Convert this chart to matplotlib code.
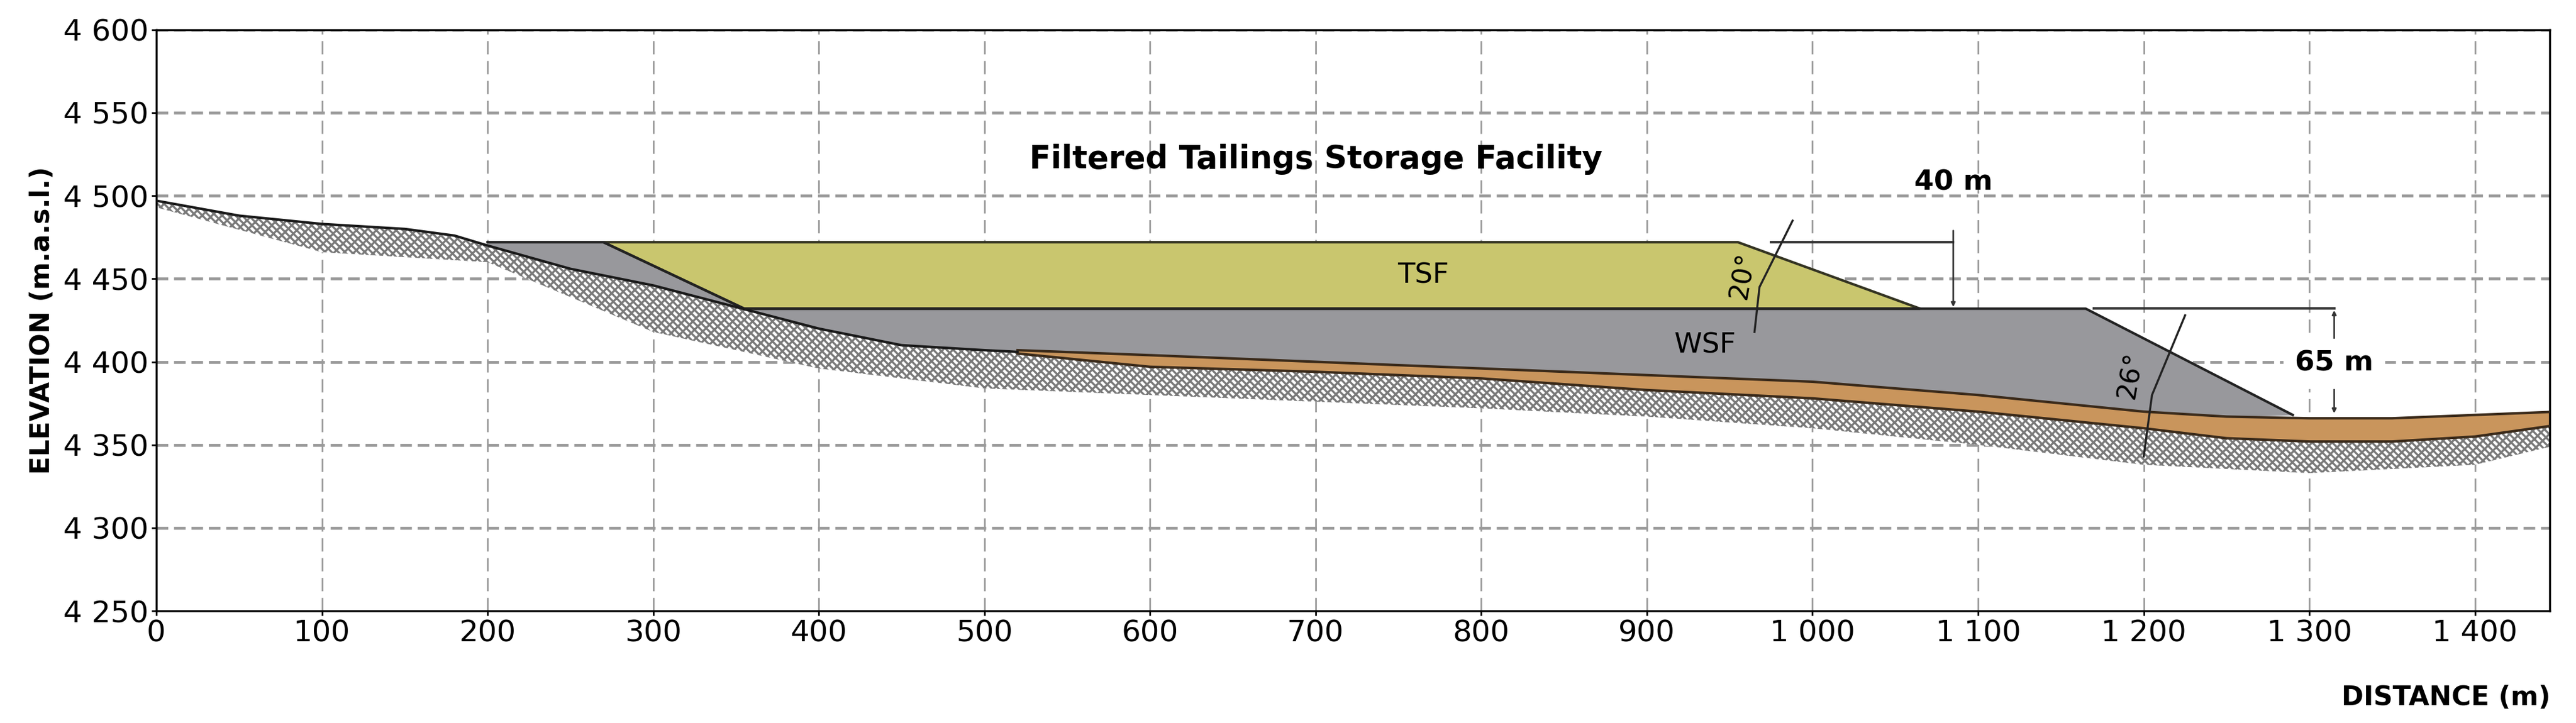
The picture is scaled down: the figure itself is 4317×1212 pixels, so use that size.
import numpy as np
import matplotlib.pyplot as plt
from matplotlib.ticker import FuncFormatter

plt.rcParams['hatch.linewidth'] = 2.5

# ground surface (top of natural terrain)
gx = [0, 50, 100, 150, 180, 200, 250, 300, 350, 400, 450, 500, 520]
gy = [4497, 4488, 4483, 4480, 4476, 4470, 4456, 4446, 4433, 4420, 4410, 4407, 4406]
# orange layer (top / bottom) from x=520 onward
ox = [520, 600, 700, 800, 900, 1000, 1100, 1200, 1250, 1300, 1350, 1400, 1450]
o_top = [4407, 4404, 4400, 4396, 4392, 4388, 4380, 4370, 4367, 4366, 4366, 4368, 4370]
o_bot = [4405, 4397, 4394, 4390, 4383, 4378, 4370, 4360, 4354, 4352, 4352, 4355, 4362]
# hatched foundation bottom
hx = [0, 100, 200, 300, 400, 500, 600, 700, 800, 900, 1000, 1100, 1200, 1300, 1400, 1450]
hy = [4493, 4466, 4460, 4418, 4396, 4384, 4380, 4376, 4372, 4367, 4360, 4350, 4338, 4333, 4338, 4350]

# WSF and TSF outlines
wsf_x = [200, 270, 355, 1165, 1290]
wsf_y = [4472, 4472, 4432, 4432, 4368]
tsf_x = [270, 955, 1065, 355]
tsf_y = [4472, 4472, 4432, 4432]

xticks = list(range(0, 1401, 100))
yticks = list(range(4250, 4601, 50))

fig = plt.figure(figsize=(43.17, 12.12), dpi=100)
ax = fig.add_axes([0.0607, 0.155, 0.929, 0.804])
ax.set_xlim(0, 1445)
ax.set_ylim(4250, 4600)

for y in yticks[1:]:
    ax.axhline(y, color='#9a9a9a', lw=3.5, ls=(0, (4, 2)), zorder=0)
for x in xticks[1:]:
    ax.axvline(x, color='#9a9a9a', lw=2, ls=(0, (8, 4)), zorder=0)

# foundation hatch
top_all = gx + ox[1:]
ground_all = gy + o_bot[1:]
hb = np.interp(top_all, hx, hy)
ax.fill_between(top_all, hb, ground_all, facecolor='white', edgecolor='#7a7a7a',
                hatch='\\\\\\//', lw=0, zorder=1)

# orange layer
ax.fill_between(ox, o_bot, o_top, color='#c9955c', zorder=2)
ax.plot(ox, o_top, color='#3a2a1a', lw=3, zorder=4)
ax.plot(ox, o_bot, color='#3a2a1a', lw=3, zorder=4)

# WSF polygon: outline, then orange top and ground back to start
poly_x = wsf_x + [x for x in ox[::-1] if x <= 1290] + [x for x in gx[::-1] if 200 <= x < 520]
poly_y = wsf_y + [y for x, y in zip(ox[::-1], o_top[::-1]) if x <= 1290] + \
         [y for x, y in zip(gx[::-1], gy[::-1]) if 200 <= x < 520]
ax.fill(poly_x, poly_y, color='#98989c', zorder=2)
ax.plot(wsf_x, wsf_y, color='#222222', lw=3, zorder=5)
ax.fill(tsf_x, tsf_y, color='#c9c66e', ec='#333322', lw=3, zorder=3)

ax.plot(gx, gy, color='#1a1a1a', lw=3, zorder=5)

lab = dict(fontsize=34, fontweight='bold', family='Liberation Sans Narrow', zorder=7)
# dimensions
ax.plot([975, 1085], [4472, 4472], color='#333', lw=3, zorder=6)
ax.annotate('', xy=(1085, 4432), xytext=(1085, 4480),
            arrowprops=dict(arrowstyle='-|>', color='#333', lw=2), zorder=6)
ax.text(1085, 4508, '40 m', ha='center', va='center', **lab)
ax.plot([1170, 1315], [4432, 4432], color='#333', lw=3, zorder=6)
ax.annotate('', xy=(1315, 4368), xytext=(1315, 4432),
            arrowprops=dict(arrowstyle='<|-|>', color='#333', lw=2), zorder=6)
ax.text(1315, 4399, '65 m', ha='center', va='center', backgroundcolor='white', **lab)

# angle markers
ax.plot([988, 968, 965], [4485, 4445, 4418], color='#222', lw=2.5, zorder=6)
ax.text(958, 4452, '20°', rotation=80, ha='center', va='center', fontsize=32,
        family='Liberation Sans Narrow', zorder=7)
ax.plot([1225, 1205, 1200], [4428, 4380, 4343], color='#222', lw=2.5, zorder=6)
ax.text(1192, 4392, '26°', rotation=80, ha='center', va='center', fontsize=32,
        family='Liberation Sans Narrow', zorder=7)

ax.text(765, 4452, 'TSF', ha='center', va='center', fontsize=34,
        family='Liberation Sans Narrow', zorder=7)
ax.text(935, 4410, 'WSF', ha='center', va='center', fontsize=34,
        family='Liberation Sans Narrow', zorder=7)
ax.text(700, 4522, 'Filtered Tailings Storage Facility', ha='center', va='center',
        fontsize=38, fontweight='bold', family='Liberation Sans Narrow', zorder=7)

fmt = FuncFormatter(lambda v, p: f'{int(v):,}'.replace(',', ' '))
ax.set_xticks(xticks)
ax.set_yticks(yticks)
ax.xaxis.set_major_formatter(fmt)
ax.yaxis.set_major_formatter(fmt)
ax.tick_params(labelsize=36, length=6, width=2)
for s in ax.spines.values():
    s.set_linewidth(2.5)
ax.set_ylabel('ELEVATION (m.a.s.l.)', fontsize=32, fontweight='bold', labelpad=10)
fig.text(0.99, 0.035, 'DISTANCE (m)', ha='right', va='center', fontsize=32, fontweight='bold')

fig.savefig('out.png', dpi=100)
